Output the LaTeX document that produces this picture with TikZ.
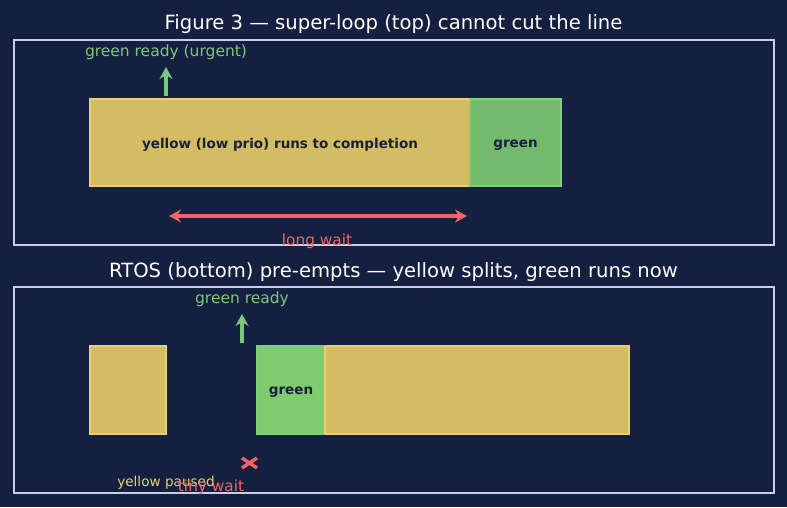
\documentclass[tikz,border=0pt]{standalone}
\usepackage{fontspec}
\setmainfont{DejaVu Sans}
\usetikzlibrary{arrows.meta}
\definecolor{bg}{RGB}{21,32,64}
\definecolor{framec}{RGB}{200,206,234}
\definecolor{ylwfill}{RGB}{212,188,100}
\definecolor{ylwdraw}{RGB}{236,208,110}
\definecolor{grnfill}{RGB}{116,186,108}
\definecolor{grnfillb}{RGB}{126,203,112}
\definecolor{grndraw}{RGB}{126,207,118}
\definecolor{grntext}{RGB}{124,200,122}
\definecolor{redc}{RGB}{240,100,104}
\definecolor{ylwtext}{RGB}{232,208,112}
\definecolor{darktext}{RGB}{22,32,60}
\tikzset{
  titletext/.style={text=white,font=\fontsize{19.6}{22}\selectfont,inner sep=0pt},
  frame/.style={draw=framec,line width=1.6pt},
  ybox/.style={draw=ylwdraw,fill=ylwfill,line width=1.4pt},
  gbox/.style={draw=grndraw,fill=grnfill,line width=1.4pt},
  boxtext/.style={text=darktext,font=\fontsize{13.5}{16}\selectfont\bfseries,inner sep=0pt},
  glabel/.style={text=grntext,font=\fontsize{15.5}{18}\selectfont,inner sep=0pt},
  rlabel/.style={text=redc,font=\fontsize{15.3}{18}\selectfont,inner sep=0pt},
  ylabel/.style={text=ylwtext,font=\fontsize{13.6}{16}\selectfont,inner sep=0pt},
  garrow/.style={draw=grntext,line width=3.2pt,-{Stealth[length=12pt,width=13pt]}},
  rarrow/.style={draw=redc,line width=3.2pt,{Stealth[length=12pt,width=13pt]}-{Stealth[length=12pt,width=13pt]}},
  rcross/.style={draw=redc,line width=3.4pt},
}
\begin{document}
\begin{tikzpicture}[x=1pt,y=-1pt]
\fill[bg] (0,0) rectangle (787,507);
\useasboundingbox (0,0) rectangle (787,507);
% top panel
\node[titletext] (t1) at (393.5,24.5) {Figure 3 — super-loop (top) cannot cut the line};
\draw[frame] (14,40) rectangle (774,245);
\node[glabel] (gr1) at (166,52) {green ready (urgent)};
\coordinate (ga1s) at (166,96);
\coordinate (ga1e) at (166,67);
\draw[garrow] (ga1s) -- (ga1e);
\draw[ybox] (90,99) rectangle (470,186);
\node[boxtext] (y1) at (280,145) {yellow (low prio) runs to completion};
\draw[gbox] (470,99) rectangle (561,186);
\node[boxtext] (g1) at (515.5,145) {green};
\coordinate (ra1s) at (169,216);
\coordinate (ra1e) at (467,216);
\draw[rarrow] (ra1s) -- (ra1e);
\node[rlabel] (lw) at (317,241) {long wait};
% bottom panel
\node[titletext] (t2) at (393.5,272.5) {RTOS (bottom) pre-empts — yellow splits, green runs now};
\draw[frame] (14,287) rectangle (774,493);
\node[glabel] (gr2) at (242,299) {green ready};
\coordinate (ga2s) at (242,343);
\coordinate (ga2e) at (242,314);
\draw[garrow] (ga2s) -- (ga2e);
\draw[ybox] (90,346) rectangle (166,434);
\draw[ybox] (325,346) rectangle (629,434);
\draw[gbox,fill=grnfillb] (257,346) rectangle (325,434);
\draw[ylwdraw,line width=1.4pt] (325,346) -- (325,434);
\node[boxtext] (g2) at (291,392) {green};
\coordinate (xa) at (242,458);
\coordinate (xb) at (257,468);
\coordinate (xc) at (242,468);
\coordinate (xd) at (257,458);
\draw[rcross] (xa) -- (xb) (xc) -- (xd);
\node[ylabel] (yp) at (166,483) {yellow paused};
\node[rlabel] (tw) at (211,487) {tiny wait};
\end{tikzpicture}
\end{document}
